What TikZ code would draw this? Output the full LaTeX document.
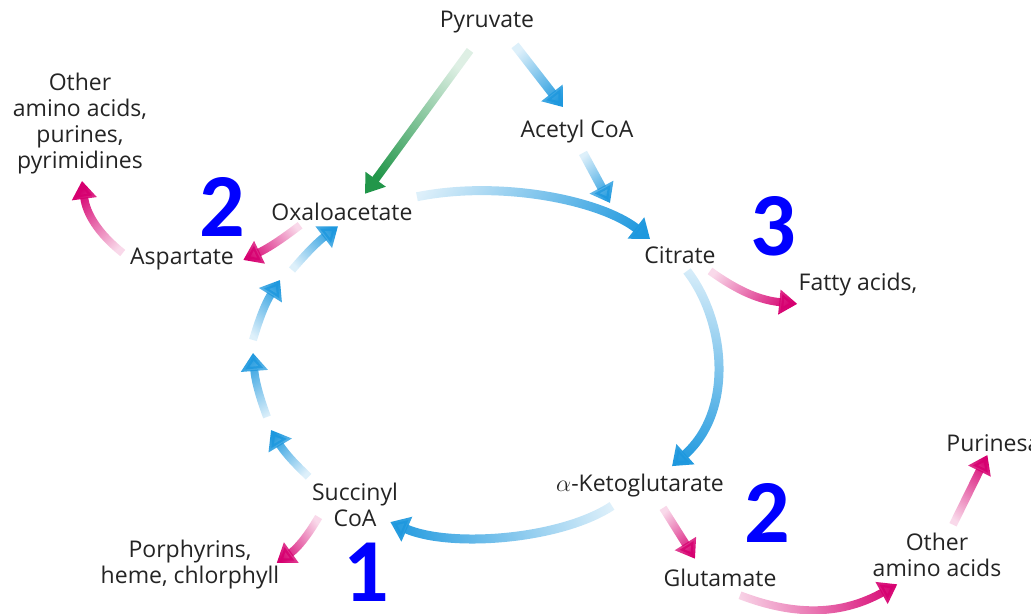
\documentclass[tikz,border=0pt]{standalone}
\usepackage{fontspec}
\setmainfont{Open Sans}
\newfontfamily\numfont{Carlito}
\usetikzlibrary{arrows.meta,fadings,positioning}
\definecolor{cycblue}{RGB}{30,152,222}
\definecolor{outpink}{RGB}{214,0,112}
\definecolor{pyrgreen}{RGB}{34,150,74}
\definecolor{txtgray}{RGB}{36,36,36}
\tikzfading[name=arrowfade, left color=transparent!85, middle color=transparent!30, right color=transparent!0]
\tikzset{
  basic/.style  = {font=\fontsize{11.5}{13}\selectfont, text=txtgray, inner sep=2pt, align=center},
  step num/.style = {font=\numfont\bfseries\fontsize{45}{45}\selectfont, text=blue, inner sep=0pt},
  faded/.style  = {path fading=arrowfade, fading angle=#1},
  cyc/.style    = {draw=cycblue, line width=4.5pt, -{Triangle[width=13pt,length=9pt]}},
  side/.style   = {draw=outpink, line width=4pt, -{Triangle[width=12pt,length=9pt]}},
  feed/.style   = {draw=pyrgreen, line width=4pt, -{Triangle[width=12pt,length=9pt]}}
}

\begin{document}
\begin{tikzpicture}[x=0.5pt, y=-0.5pt]
\useasboundingbox (0,0) rectangle (1031,614);
\clip (0,0) rectangle (1031,614);

% the cycle and its inputs
\node[basic] (pyr)  at (487,22)  {Pyruvate};
\node[basic] (acoa) at (577,132) {Acetyl CoA};
\node[basic] (oaa)  at (342,212) {Oxaloacetate};
\node[basic] (cit)  at (680,255) {Citrate};
\node[basic] (akg)  at (640,486) {$\alpha$-Ketoglutarate};
\node[basic] (suc)  at (355,505) {Succinyl\\CoA};

% products drawn off the cycle
\node[basic] (asp)  at (182,259) {Aspartate};
\node[basic] (aa1)  at (80,124)  {Other\\amino acids,\\purines,\\pyrimidines};
\node[basic] (fat)  at (858,285) {Fatty acids,};
\node[basic] (por)  at (190,565) {Porphyrins,\\heme, chlorphyll};
\node[basic] (glu)  at (720,578) {Glutamate};
\node[basic] (aa2)  at (937,555) {Other\\amino acids};
\node[basic, anchor=west] (pur) at (942,443) {Purinesa};

% numbers
\node[step num] (n2a) at (222,207) {2};
\node[step num] (n3)  at (773,226) {3};
\node[step num] (n2b) at (767,513) {2};
\node[step num] (n1)  at (366,572) {1};

% left side of the cycle, broken in pieces
\coordinate (l1) at (271,430);
\coordinate (l2) at (267,417);
\coordinate (l3) at (253,353);
\coordinate (l4) at (253,340);
\coordinate (l5) at (280,280);
\coordinate (l6) at (292,270);

\draw[feed, faded=233] ([shift={(-17,13)}]pyr.south) -- ([shift={(23,-5)}]oaa.north);
\draw[cyc, faded=-53] ([shift={(28,8)}]pyr.south) -- ([shift={(-14,-9)}]acoa.north);
\draw[cyc, faded=-62] ([shift={(6,5)}]acoa.south) -- (610,203);

\draw[cyc, faded=-10] ([shift={(0,-2)}]oaa.north east) .. controls (500,180) and (600,200) .. ([shift={(10,-3)}]cit.north west);
\draw[cyc, faded=-95] ([shift={(7,3)}]cit.south) .. controls (725,320) and (735,410) .. ([shift={(32,-4)}]akg.north);
\draw[cyc, faded=184] ([shift={(-28,4)}]akg.south) .. controls (560,540) and (450,548) .. ([shift={(-12,17)}]suc.east);

\draw[cyc, line width=4pt, faded=130] ([shift={(1,-2)}]suc.north west) to[bend left=8] (l1);
\draw[cyc, line width=4pt, faded=102] (l2) to[bend left=8] (l3);
\draw[cyc, line width=4pt, faded=65] (l4) to[bend left=8] (l5);
\draw[cyc, line width=4pt, faded=41] (l6) to[bend left=6] ([shift={(-4,1)}]oaa.south);

\draw[side, faded=209] ([shift={(33,0)}]oaa.south west) to[bend left=6] ([shift={(5,1)}]asp.east);
\draw[side, faded=120] ([shift={(-3,-6)}]asp.west) to[bend left=22] ([shift={(2,2)}]aa1.south);
\draw[side, faded=-19] ([shift={(-10,3)}]cit.south east) to[bend right=15] ([shift={(3,3)}]fat.south west);
\draw[side, faded=216] ([shift={(11,12)}]suc.west) to[bend left=12] ([shift={(-7,-2)}]por.east);
\draw[side, faded=-57] ([shift={(23,6)}]akg.south) -- ([shift={(-25,-6)}]glu.north);
\draw[side, faded=3] ([shift={(20,4)}]glu.south) to[bend right=25] ([shift={(29,3)}]aa2.south west);
\draw[side, faded=66] ([shift={(16,-4)}]aa2.north) -- ([shift={(-6,-1)}]pur.south);
\end{tikzpicture}
\end{document}
